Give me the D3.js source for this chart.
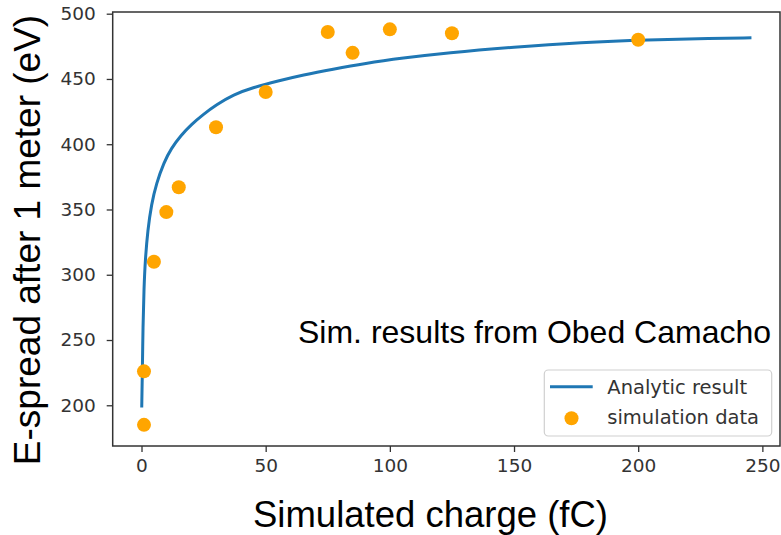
<!DOCTYPE html>
<html>
<head>
<meta charset="utf-8">
<script src="https://cdn.jsdelivr.net/npm/d3@7"></script>
<style>
  html, body { margin: 0; padding: 0; background: #fff; }
  svg { display: block; }
</style>
</head>
<body>
<svg id="chart" width="781" height="535"></svg>
<script>
// Simulated energy spread vs. bunch charge
const simCharge = [1, 1, 5, 10, 15, 30, 50, 75, 85, 100, 125, 200];
const simSpread = [185, 226, 310, 348, 367, 413, 440, 486, 470, 488, 485, 480];

// Analytic curve, sampled
const curveCharge = [0.1, 0.3, 0.6, 1.0, 1.5, 2.5, 4, 6, 9, 12, 16, 20, 25, 30, 37, 45, 55, 65, 77, 90, 105, 123, 150, 177, 204, 230, 245];
const curveSpread = [199.5, 220, 262, 290, 311, 334, 354, 370, 386, 397, 407, 415, 423, 430, 438, 443.5, 448.5, 453, 457.5, 462, 466, 470, 474.5, 478, 480, 481, 481.5];

const xTicks = [0, 50, 100, 150, 200, 250];
const yTicks = [200, 250, 300, 350, 400, 450, 500];

const legendLabels = ["Analytic result", "simulation data"];

const blue = "#1f77b4";
const orange = "#ffa500";

const plot = { left: 112.7, right: 780, top: 12, bottom: 446 };

const svg = d3.select("#chart");

const x = d3.scaleLinear().domain([-11.6, 257.1]).range([plot.left, plot.right]);
const y = d3.scaleLinear().domain([168.8, 501.3]).range([plot.bottom, plot.top]);

// Axes
const xAxis = d3.axisBottom(x).tickValues(xTicks).tickSize(6).tickPadding(7).tickFormat(d3.format("d"));
const yAxis = d3.axisLeft(y).tickValues(yTicks).tickSize(6).tickPadding(11).tickFormat(d3.format("d"));

const gx = svg.append("g").attr("transform", `translate(0,${plot.bottom})`).call(xAxis);
const gy = svg.append("g").attr("transform", `translate(${plot.left},0)`).call(yAxis);

[gx, gy].forEach(g => {
  g.select(".domain").remove();
  g.selectAll(".tick line").attr("stroke", "#333").attr("stroke-width", 1.3);
  g.selectAll(".tick text")
    .attr("fill", "#333")
    .style("font-family", "'DejaVu Sans', sans-serif")
    .style("font-size", "18.5px");
});

// Frame
svg.append("rect")
  .attr("x", plot.left).attr("y", plot.top)
  .attr("width", plot.right - plot.left).attr("height", plot.bottom - plot.top)
  .attr("fill", "none").attr("stroke", "#333").attr("stroke-width", 1.5);

// Analytic line
const lineData = curveCharge.map((c, i) => [c, curveSpread[i]]);
svg.append("path")
  .datum(lineData)
  .attr("fill", "none")
  .attr("stroke", blue)
  .attr("stroke-width", 3)
  .attr("stroke-linejoin", "round")
  .attr("stroke-linecap", "square")
  .attr("d", d3.line().x(d => x(d[0])).y(d => y(d[1])).curve(d3.curveBasis));

// Simulation points
svg.append("g").selectAll("circle")
  .data(simCharge.map((c, i) => [c, simSpread[i]]))
  .join("circle")
  .attr("cx", d => x(d[0]))
  .attr("cy", d => y(d[1]))
  .attr("r", 7)
  .attr("fill", orange);

// Axis titles
svg.append("text")
  .attr("x", 253).attr("y", 527)
  .style("font-family", "'Liberation Sans', Arial, sans-serif")
  .style("font-size", "36.5px")
  .attr("fill", "#000")
  .text("Simulated charge (fC)");

svg.append("text")
  .attr("transform", "translate(40,240) rotate(-90)")
  .attr("text-anchor", "middle")
  .style("font-family", "'Liberation Sans', Arial, sans-serif")
  .style("font-size", "37px")
  .attr("fill", "#000")
  .text("E-spread after 1 meter (eV)");

// Annotation
svg.append("text")
  .attr("x", 298).attr("y", 343)
  .style("font-family", "'Liberation Sans', Arial, sans-serif")
  .style("font-size", "32px")
  .attr("fill", "#000")
  .text("Sim. results from Obed Camacho");

// Legend
const lg = svg.append("g");
lg.append("rect")
  .attr("x", 544.3).attr("y", 370)
  .attr("width", 227.4).attr("height", 66)
  .attr("rx", 4)
  .attr("fill", "#fff").attr("fill-opacity", 0.8)
  .attr("stroke", "#d0d0d0").attr("stroke-width", 1.2);
lg.append("line")
  .attr("x1", 550).attr("x2", 592.7)
  .attr("y1", 386.7).attr("y2", 386.7)
  .attr("stroke", blue).attr("stroke-width", 3);
lg.append("circle")
  .attr("cx", 571.5).attr("cy", 418.3).attr("r", 7).attr("fill", orange);
lg.selectAll("text.lbl")
  .data(legendLabels)
  .join("text")
  .attr("class", "lbl")
  .attr("x", 607.3)
  .attr("y", (d, i) => 394 + i * 30)
  .style("font-family", "'DejaVu Sans', sans-serif")
  .style("font-size", "19.5px")
  .attr("fill", "#333")
  .text(d => d);
</script>
</body>
</html>
